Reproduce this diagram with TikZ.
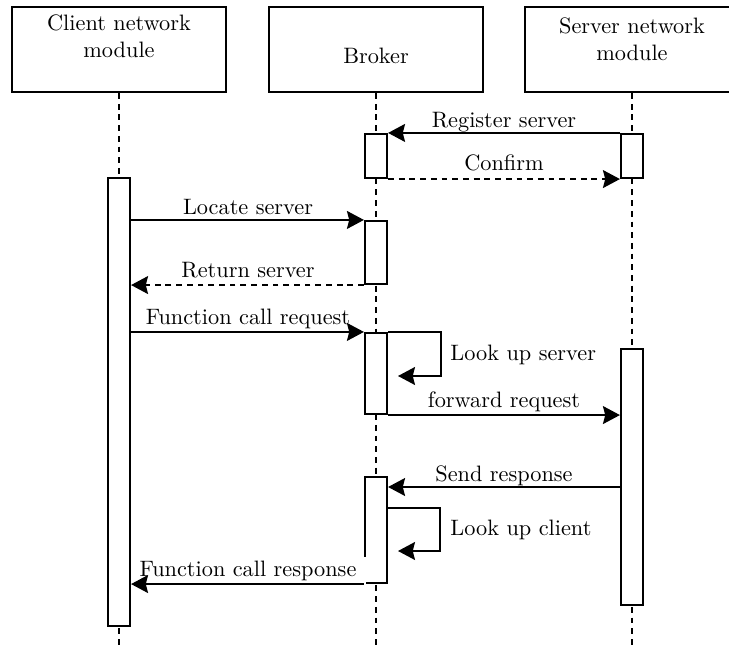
\documentclass[tikz,border=0pt]{standalone}
\usetikzlibrary{arrows.meta,calc}
\def\u{0.4484pt}
\begin{document}
\begin{tikzpicture}[x=\u, y=-\u,
  inst/.style={draw, line width=0.95pt, minimum width=214*\u, minimum height=85*\u, inner sep=0pt},
  act/.style={draw, fill=white, line width=0.95pt, minimum width=22*\u, inner sep=0pt},
  life/.style={line width=0.95pt, dash pattern=on 2.6pt off 2.2pt},
  msg/.style={line width=0.95pt, -{Stealth[length=7.6pt,width=8pt,inset=1pt]}},
  reply/.style={msg, dash pattern=on 2.6pt off 2.2pt},
  lbl/.style={fill=white, anchor=base, inner xsep=4.5pt, inner ysep=1.5pt},
  side/.style={anchor=west, inner xsep=4.5pt},
  title/.style={anchor=base, inner sep=0pt}]
\useasboundingbox (0,0) rectangle (729,649);

% instance heads
\node[inst] (cli) at (119,49.5) {};
\node[inst] (brk) at (376,49.5) {};
\node[inst] (srv) at (632,49.5) {};
\node[title] (cliA) at (119,30.5) {Client network};
\node[title] (cliB) at (119,57.3) {module};
\node[title] (brkA) at (376,64) {Broker};
\node[title] (srvA) at (632,34) {Server network};
\node[title] (srvB) at (632,60.8) {module};

% lifelines
\coordinate (bottom) at (0,655);
\draw[life] (cli.south) -- (cli.south |- bottom);
\draw[life] (brk.south) -- (brk.south |- bottom);
\draw[life] (srv.south) -- (srv.south |- bottom);

% activation bars of broker and server
\node[act, minimum height=44*\u]  (ba1) at (376,156) {};
\node[act, minimum height=44*\u]  (sa1) at (632,156) {};
\node[act, minimum height=63*\u]  (ba2) at (376,252.5) {};
\node[act, minimum height=81*\u]  (ba3) at (376,373.5) {};
\node[act, minimum height=256*\u] (sa2) at (632,477) {};
\node[act, minimum height=106*\u] (ba4) at (376,530) {};

% message labels (white boxes under the arrows)
\node[lbl] (m1) at (504,128) {Register server};
\node[lbl] (m2) at (504,171) {Confirm};
\node[lbl] (m3) at (248,215) {Locate server};
\node[lbl] (m4) at (248,277.5) {Return server};
\node[lbl] (m5) at (248,324) {Function call request};
\node[side] (m6) at (440,354.5) {Look up server};
\node[lbl] (m7) at (504,407) {forward request};
\node[lbl] (m8) at (504,481) {Send response};
\node[side] (m9) at (440,529.5) {Look up client};
\node[lbl] (m10) at (248,576) {Function call response};

% activation bar of the client
\node[act, minimum height=448*\u] (ca)  at (119,402) {};

% registration
\draw[msg] (sa1.north west) -- (ba1.north east);
\draw[reply] (ba1.south east) -- (sa1.south west);

% lookup of the server
\draw[msg] (ca.east |- ba2.north) -- (ba2.north west);
\draw[reply] (ba2.south west) -- (ca.east |- ba2.south);

% call request
\draw[msg] (ca.east |- ba3.north) -- (ba3.north west);
\coordinate (ls) at (398,376);
\draw[msg] (ba3.north east) -- ++(53,0) |- (ls);
\draw[msg] (ba3.south east) -- (sa2.west |- ba3.south east);

% response
\coordinate (sr) at (387,487);
\draw[msg] (sa2.west |- sr) -- (ba4.east |- sr);
\coordinate (lcA) at (387,508);
\coordinate (lc) at (398,551);
\draw[msg] (lcA) -- ++(53,0) |- (lc);
\draw[msg] (ba4.south west) -- (ca.east |- ba4.south west);
\end{tikzpicture}
\end{document}
